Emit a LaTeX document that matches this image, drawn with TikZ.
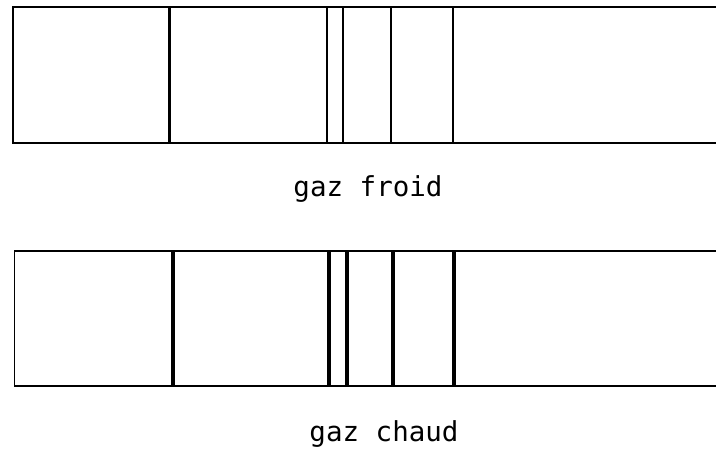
\documentclass[tikz,border=0pt]{standalone}
\usepackage{fontspec}
\setmonofont{DejaVu Sans Mono}
\begin{document}
\begin{tikzpicture}[x=1pt,y=-1pt,
  cold/.style={line width=2.2pt},
  hot/.style={line width=4pt},
  frame/.style={line width=2.2pt},
  lbl/.style={font=\ttfamily\fontsize{27.5}{27.5}\selectfont, inner sep=0pt}]
\useasboundingbox (0,0) rectangle (716,454);
% top spectrum
\coordinate (t1) at (13,7);
\coordinate (t2) at (716,7);
\coordinate (t3) at (716,143);
\coordinate (t4) at (13,143);
\draw[frame] (t2) -- (t1) -- (t4) -- (t3);
\foreach \x in {169.5,326.7,342.7,390.7,452.7}
  \draw[cold] (\x,7) -- (\x,143);
\node[lbl] (froid) at (368,189) {gaz froid};
% bottom spectrum
\coordinate (b1) at (14.5,251);
\coordinate (b2) at (716,251);
\coordinate (b3) at (716,386);
\coordinate (b4) at (14.5,386);
\draw[frame, line width=1.8pt] (b2) -- (b1) -- (b4) -- (b3);
\foreach \x in {173.3,328.7,347.3,392.7,454}
  \draw[hot] (\x,251) -- (\x,386);
\node[lbl] (chaud) at (384,434) {gaz chaud};
\end{tikzpicture}
\end{document}
